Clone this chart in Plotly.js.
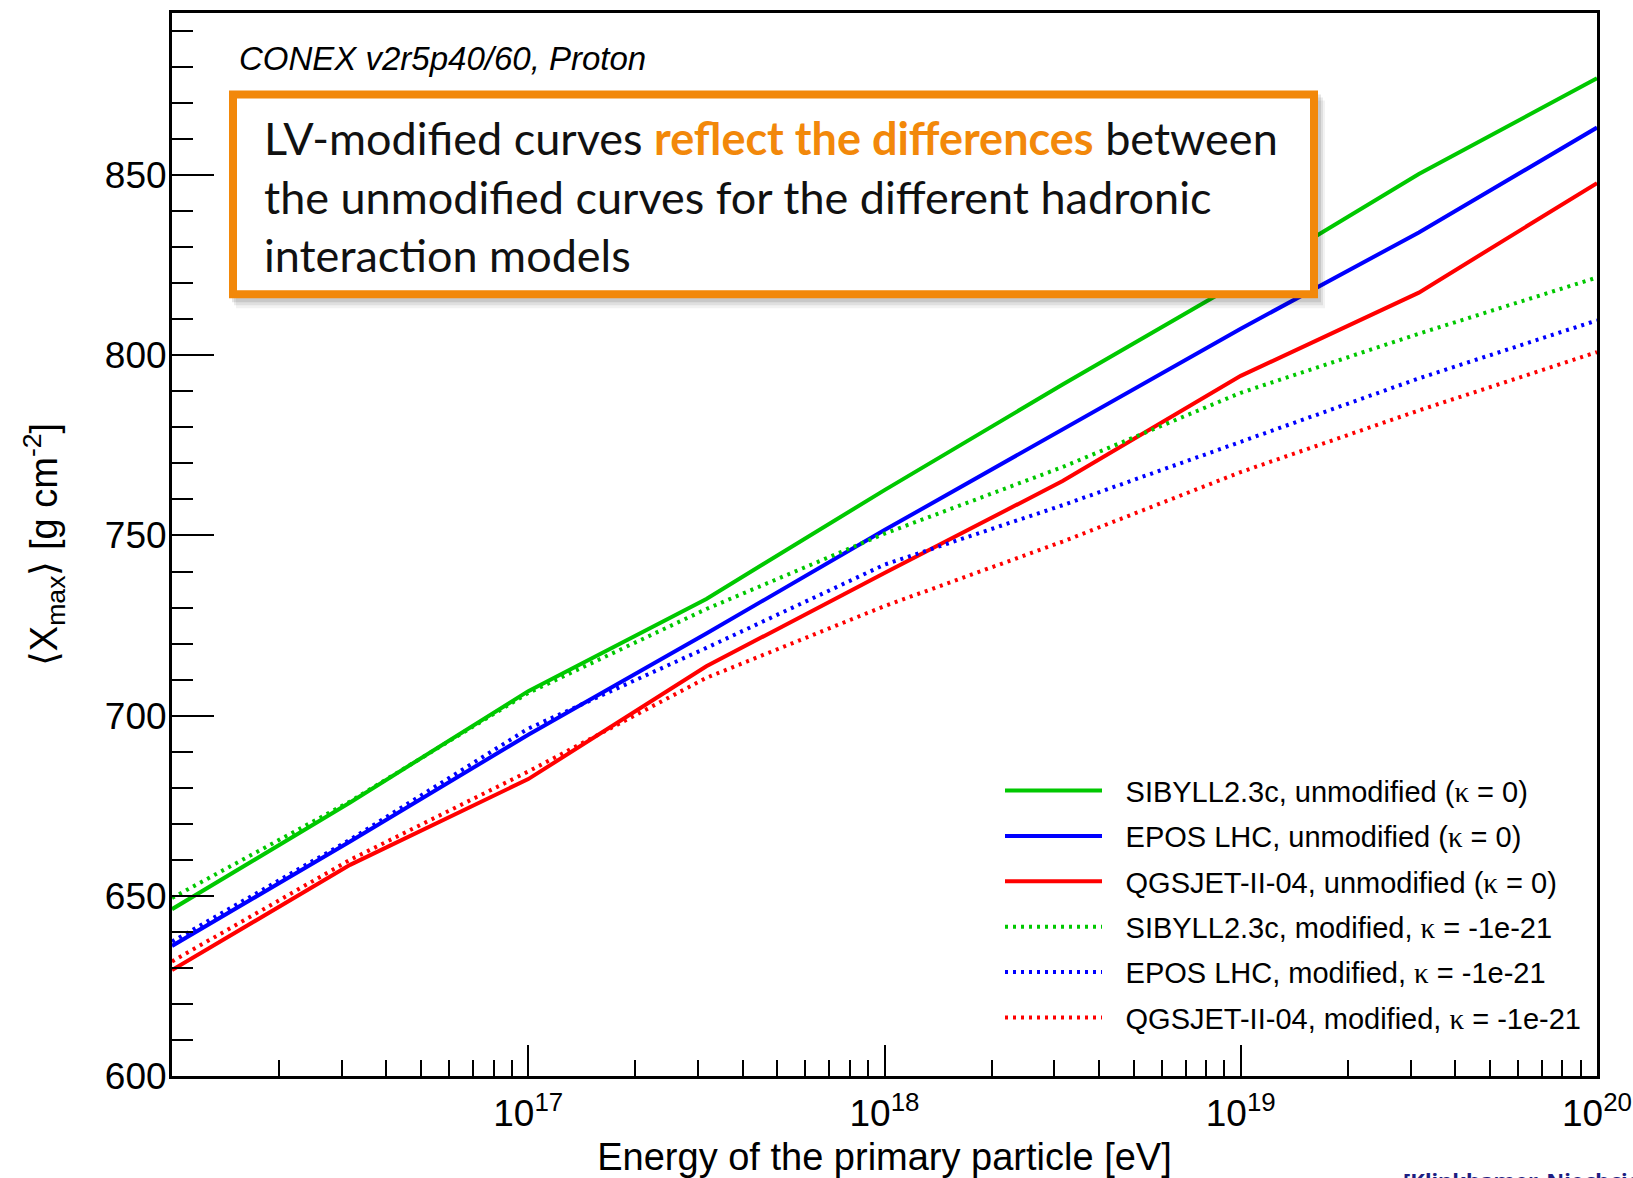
<!DOCTYPE html>
<html><head><meta charset="utf-8">
<script src="https://cdn.plot.ly/plotly-3.0.1.min.js"></script>
<style>html,body{margin:0;padding:0;background:#fff}</style>
</head><body><div id="chart" style="width:1633px;height:1178px"></div>
<script>
// Primary energy [eV] (half-decade steps, lg E = 16 ... 20)
const energy = [1e16, 3.162e16, 1e17, 3.162e17, 1e18, 3.162e18, 1e19, 3.162e19, 1e20];

// <Xmax> [g cm^-2]
const sibyllUnmod = [646.3, 675.9, 706.8, 732.4, 762.6, 791.9, 820.5, 850.3, 876.9];
const eposUnmod   = [636.1, 665.1, 694.7, 722.8, 751.5, 779.5, 807.4, 834.1, 863.2];
const qgsjetUnmod = [629.4, 658.6, 682.4, 713.7, 739.6, 765.1, 794.3, 817.4, 847.8];
const sibyllMod   = [649.4, 676.2, 706.3, 729.6, 750.5, 769.0, 789.6, 806.0, 821.6];
const eposMod     = [637.3, 665.6, 696.4, 718.8, 741.9, 758.4, 776.0, 793.6, 809.7];
const qgsjetMod   = [631.8, 660.0, 684.5, 710.5, 730.4, 748.3, 767.6, 784.7, 800.9];

const kap = '<span style="font-family:\'Liberation Serif\',serif">κ</span>';
const gap = '\u00a0\u00a0\u200a';
const names = [
  'SIBYLL2.3c, unmodified (' + kap + ' = 0)',
  'EPOS LHC, unmodified (' + kap + ' = 0)',
  'QGSJET-II-04, unmodified (' + kap + ' = 0)',
  'SIBYLL2.3c, modified, ' + kap + ' = -1e-21',
  'EPOS LHC, modified, ' + kap + ' = -1e-21',
  'QGSJET-II-04, modified, ' + kap + ' = -1e-21'
];
const seriesValues = [sibyllUnmod, eposUnmod, qgsjetUnmod, sibyllMod, eposMod, qgsjetMod];
const colors = ['#00C800', '#0000FF', '#FF0000', '#00C800', '#0000FF', '#FF0000'];
const dashes = ['solid', 'solid', 'solid', '3px,5px', '3px,5px', '3px,5px'];

const xTickVals = [1e17, 1e18, 1e19, 1e20];
const xTickText = ['10<sup>17</sup>', '10<sup>18</sup>', '10<sup>19</sup>', '10<sup>20</sup>'];

const traces = seriesValues.map((vals, i) => ({
  x: energy, y: vals, type: 'scatter', mode: 'lines',
  name: gap + names[i], legendgroup: 'g' + i,
  line: {color: colors[i], width: 4, dash: dashes[i]}
}));

// pixel helpers for decoration placement (plot area 172..1597 x, 12.5..1076 y)
const L = 172, R = 1597, T = 12.5, B = 1076;
const px = v => (v - L) / (R - L);
const py = v => (B - v) / (B - T);

const boxX0 = 233, boxX1 = 1314, boxY0 = 94, boxY1 = 294;
const shapes = [];
[[3, 4, 0.10], [5, 7, 0.08], [7, 10, 0.05]].forEach(([dx, dy, a]) => {
  shapes.push({type: 'rect', xref: 'paper', yref: 'paper', layer: 'above',
    x0: px(boxX0 - 4 + dx), x1: px(boxX1 + 4 + dx), y0: py(boxY1 + 4 + dy), y1: py(boxY0 - 4 + dy),
    fillcolor: 'rgba(0,0,0,' + a + ')', line: {width: 0}});
});
shapes.push({type: 'rect', xref: 'paper', yref: 'paper', layer: 'above',
  x0: px(boxX0), x1: px(boxX1), y0: py(boxY1), y1: py(boxY0),
  fillcolor: '#FFFFFF', line: {color: '#F2880A', width: 8}});

const layout = {
  width: 1633, height: 1178,
  margin: {l: L, r: 1633 - R, t: T, b: 1178 - B},
  paper_bgcolor: '#fff', plot_bgcolor: '#fff',
  font: {family: 'Liberation Sans, Arial, sans-serif', color: '#000'},
  showlegend: true,
  legend: {x: px(1000), y: py(765), xanchor: 'left', yanchor: 'top',
    bgcolor: 'rgba(0,0,0,0)', borderwidth: 0, font: {size: 29, color: '#000'},
    tracegroupgap: 4.7, traceorder: 'grouped', itemwidth: 97},
  xaxis: {
    type: 'log', range: [16, 20], showgrid: false, zeroline: false,
    showline: true, linecolor: '#000', linewidth: 3, mirror: true,
    ticks: 'inside', ticklen: 31, tickwidth: 2, tickcolor: '#000',
    tickmode: 'array', tickvals: xTickVals, ticktext: xTickText,
    tickfont: {size: 37}, ticklabelstandoff: 3,
    minor: {ticks: 'inside', ticklen: 16, tickwidth: 2, tickcolor: '#000', dtick: 'D1', showgrid: false},
    title: {text: 'Energy of the primary particle [eV]', font: {size: 38}, standoff: 12}
  },
  yaxis: {
    range: [600, 895], showgrid: false, zeroline: false,
    showline: true, linecolor: '#000', linewidth: 3, mirror: true,
    ticks: 'inside', ticklen: 42, tickwidth: 2, tickcolor: '#000',
    tick0: 600, dtick: 50, tickfont: {size: 37}, ticklabelstandoff: -5,
    minor: {ticks: 'inside', ticklen: 21, tickwidth: 2, tickcolor: '#000', dtick: 10, showgrid: false},
    title: {text: '⟨X<sub>max</sub>⟩ [g cm<sup>-2</sup>]', font: {size: 38}, standoff: 36}
  },
  shapes: shapes,
  annotations: [
    {xref: 'paper', yref: 'paper', x: px(237), y: py(58), xanchor: 'left', yanchor: 'middle',
     showarrow: false, text: '<i>CONEX v2r5p40/60, Proton</i>',
     font: {size: 33, color: '#000', family: 'Liberation Sans, Arial, sans-serif'}},
    {xref: 'paper', yref: 'paper', x: px(262), y: py(196), xanchor: 'left', yanchor: 'middle',
     showarrow: false, align: 'left',
     text: 'LV-modified curves <b><span style="color:#F2880A">reflect the differences</span></b> between<br>the unmodified curves for the different hadronic<br>interaction models',
     font: {size: 45, color: '#111', family: 'Lato, Noto Sans, sans-serif'}},
    {xref: 'paper', yref: 'paper', x: px(1401), y: py(1163), xanchor: 'left', yanchor: 'top',
     showarrow: false, text: '<b>[Klinkhamer, Niechciol, Risse]</b>',
     font: {size: 22, color: '#1E1E82', family: 'Noto Sans, sans-serif'}}
  ]
};

Plotly.newPlot('chart', traces, layout, {displayModeBar: false, staticPlot: true});
</script>
</body></html>
